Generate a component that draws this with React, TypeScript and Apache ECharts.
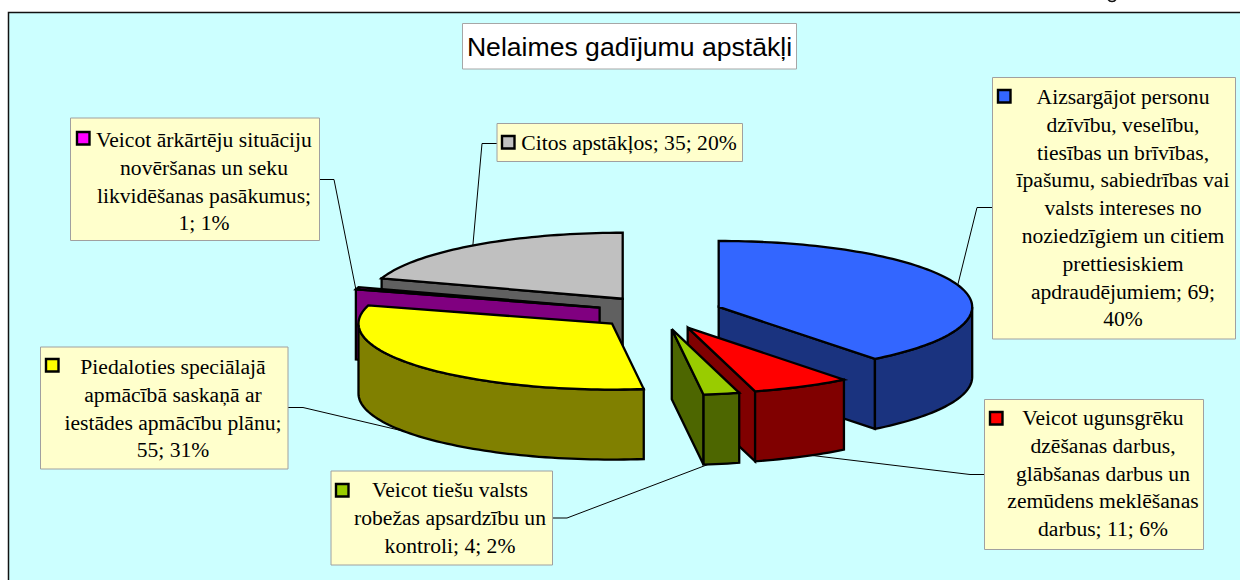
import React, { useEffect, useRef } from "react";
import * as echarts from "echarts";

const titleText = "Nelaimes gadījumu apstākļi";
const categories = [
  "Aizsargājot personu dzīvību",
  "Veicot ugunsgrēku dzēšanas darbus",
  "Veicot tiešu valsts robežas apsardzību",
  "Piedaloties speciālajā apmācībā",
  "Veicot ārkārtēju situāciju novēršanas",
  "Citos apstākļos",
];
const values = [69, 11, 4, 55, 1, 35];
const labelLines = [
  ["Aizsargājot personu", "dzīvību, veselību,", "tiesības un brīvības,", "īpašumu, sabiedrības vai", "valsts intereses no", "noziedzīgiem un citiem", "prettiesiskiem", "apdraudējumiem; 69;", "40%"],
  ["Veicot ugunsgrēku", "dzēšanas darbus,", "glābšanas darbus un", "zemūdens meklēšanas", "darbus; 11; 6%"],
  ["Veicot tiešu valsts", "robežas apsardzību un", "kontroli; 4; 2%"],
  ["Piedaloties speciālajā", "apmācībā saskaņā ar", "iestādes apmācību plānu;", "55; 31%"],
  ["Veicot ārkārtēju situāciju", "novēršanas un seku", "likvidēšanas pasākumus;", "1; 1%"],
  ["Citos apstākļos; 35; 20%"],
];
const topColors = ["#3366FF", "#FF0000", "#99CC00", "#FFFF00", "#FF00FF", "#C0C0C0"];
const keyColors = topColors;
const sideColors = ["#1A337F", "#800000", "#4D6600", "#808000", "#800080", "#606060"];
const paintOrder = [5, 4, 3, 0, 1, 2];

// layout: [left, top, right, bottom, keyX, keyY, textCenterX, firstLineCenterY]
const boxes = [
  [992.5, 77.5, 1235.5, 339, 997, 89, 1123, 97],
  [984.5, 399.5, 1203.5, 549.5, 989, 411, 1103, 418],
  [331, 471, 552.5, 565, 335, 483, 450, 490],
  [40.5, 347, 288, 469, 45, 358, 173, 367],
  [70.5, 118, 319.5, 240.5, 76, 131, 204, 140],
  [497, 123.5, 742.5, 161.5, 501, 135, 629, 143],
];
const leaders = [
  [[992, 207.5], [977, 207.5], [956, 292]],
  [[984, 474.5], [970, 474.5], [800, 454]],
  [[552, 518], [567, 518], [725, 458]],
  [[288, 407.5], [303, 407.5], [420, 435]],
  [[319, 179.5], [334, 179.5], [358, 300]],
  [[497, 143.5], [482, 143.5], [472, 255]],
];

const CX = 659.5;
const CY = 312.5;
const RX = 253.5;
const RY = 66;
const DEPTH = 70;
const EXPLODE_X = 62.6;
const EXPLODE_Y = 17;
const LINE_H = 27.8;
const STROKE = 2.3;

const total = values.reduce((a, b) => a + b, 0);
const deg = Math.PI / 180;

function sliceAngles(i: number) {
  const before = values.slice(0, i).reduce((a, b) => a + b, 0);
  return [(before / total) * 360, ((before + values[i]) / total) * 360];
}

function arcPoints(ax: number, ay: number, a0: number, a1: number, dy: number) {
  const n = Math.max(2, Math.ceil(Math.abs(a1 - a0) / 1.5));
  const pts: number[][] = [];
  for (let k = 0; k <= n; k++) {
    const a = (a0 + ((a1 - a0) * k) / n) * deg;
    pts.push([ax + RX * Math.sin(a), ay - RY * Math.cos(a) + dy]);
  }
  return pts;
}

function poly(points: number[][], fill: string) {
  return {
    type: "polygon",
    shape: { points },
    style: { fill, stroke: "#000", lineWidth: STROKE, lineJoin: "miter" },
  };
}

function renderSlice(_: any, api: any) {
  const i = api.value(0) as number;
  const [a0, a1] = sliceAngles(i);
  const mid = ((a0 + a1) / 2) * deg;
  const ax = CX + EXPLODE_X * Math.sin(mid);
  const ay = CY - EXPLODE_Y * Math.cos(mid);
  const children: any[] = [];
  const radial = (a: number) => {
    const p = [ax + RX * Math.sin(a * deg), ay - RY * Math.cos(a * deg)];
    return poly([[ax, ay], p, [p[0], p[1] + DEPTH], [ax, ay + DEPTH]], sideColors[i]);
  };
  if (Math.cos((a0 - 90) * deg) < -1e-6) children.push(radial(a0));
  if (Math.cos((a1 + 90) * deg) < -1e-6) children.push(radial(a1));
  const w0 = Math.max(a0, 90);
  const w1 = Math.min(a1, 270);
  if (w1 > w0) {
    const topArc = arcPoints(ax, ay, w0, w1, 0);
    const botArc = arcPoints(ax, ay, w0, w1, DEPTH).reverse();
    children.push(poly([...topArc, ...botArc], sideColors[i]));
  }
  children.push(poly([[ax, ay], ...arcPoints(ax, ay, a0, a1, 0)], topColors[i]));
  return { type: "group", children };
}

function buildGraphics() {
  const els: any[] = [
    { type: "rect", z: 0, shape: { x: 8.5, y: 12.5, width: 1240, height: 580 }, style: { fill: "#CCFFFF", stroke: "#111", lineWidth: 1.5 } },
    { type: "arc", z: 1, shape: { cx: 1112, cy: -3, r: 4.5, startAngle: 0.2, endAngle: 2.9 }, style: { stroke: "#111", fill: "none", lineWidth: 1.5 } },
    { type: "rect", z: 1, shape: { x: 462.5, y: 23.5, width: 334, height: 45.5 }, style: { fill: "#fff", stroke: "#A6A6A6", lineWidth: 1 } },
    { type: "text", z: 2, style: { text: titleText, x: 629.5, y: 47, align: "center", verticalAlign: "middle", fill: "#000", font: '26.6px "Liberation Sans"' } },
  ];
  leaders.forEach((pts) => {
    els.push({ type: "polyline", z: 1, shape: { points: pts }, style: { stroke: "#000", lineWidth: 1, fill: "none" } });
  });
  boxes.forEach((b, i) => {
    const [l, t, r, btm, kx, ky, tx, ty] = b;
    els.push({ type: "rect", z: 3, shape: { x: l, y: t, width: r - l, height: btm - t }, style: { fill: "#FFFFCC", stroke: "#A0A0A0", lineWidth: 1 } });
    els.push({ type: "rect", z: 4, shape: { x: kx + 1, y: ky + 1, width: 12.5, height: 12.5 }, style: { fill: keyColors[i], stroke: "#000", lineWidth: 2.4 } });
    labelLines[i].forEach((line, n) => {
      els.push({ type: "text", z: 4, style: { text: line, x: tx, y: ty + n * LINE_H, align: "center", verticalAlign: "middle", fill: "#000", font: '21.6px "Liberation Serif"' } });
    });
  });
  return els;
}

export default function App() {
  const ref = useRef<HTMLDivElement>(null);
  useEffect(() => {
    const chart = echarts.init(ref.current!, undefined, { renderer: "svg" });
    chart.setOption({
      animation: false,
      graphic: { elements: buildGraphics() },
      series: [
        {
          type: "custom",
          coordinateSystem: "none",
          z: 5,
          silent: true,
          renderItem: renderSlice,
          data: paintOrder.map((i) => ({ name: categories[i], value: [i, values[i]] })),
        },
      ],
    });
    return () => chart.dispose();
  }, []);
  return (
    <div
      ref={ref}
      style={{ position: "fixed", left: 0, top: 0, width: 1240, height: 580, background: "#fff", overflow: "hidden" }}
    />
  );
}
